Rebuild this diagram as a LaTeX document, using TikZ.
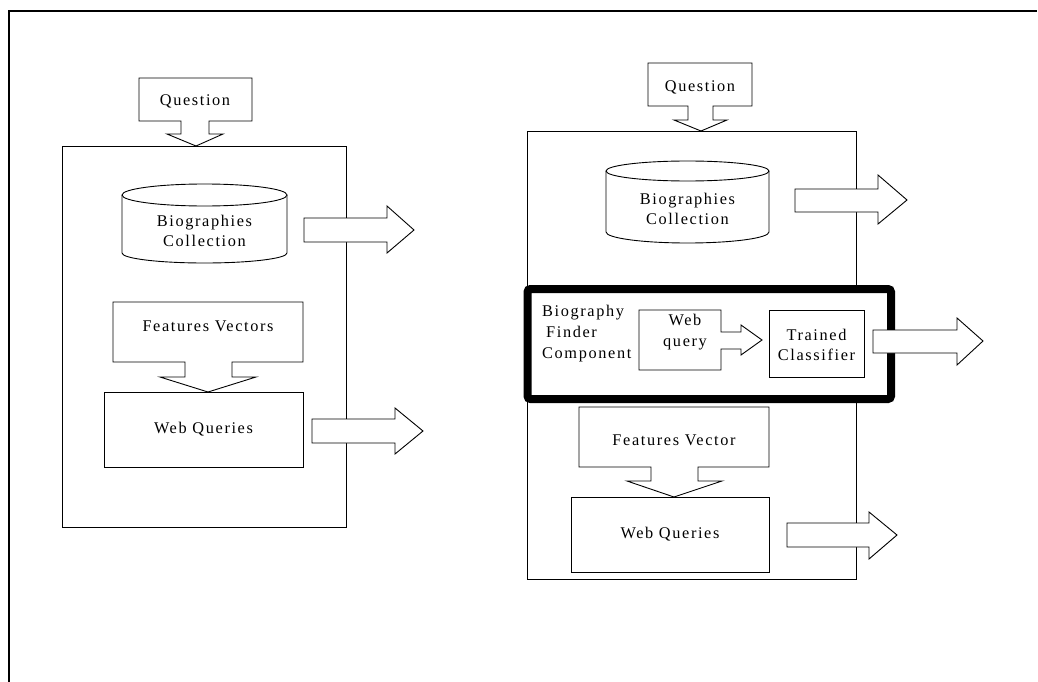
\documentclass[tikz,border=0pt]{standalone}
\usepackage{fontspec}
\newfontfamily\labfont{Liberation Serif}[LetterSpace=10]
\begin{document}
\tikzset{
  ln/.style={line width=0.9pt, line join=miter},
  blk/.style={ln, fill=white},
  lab/.style={font=\labfont\fontsize{16.3}{20.5}\selectfont, align=center, inner sep=0pt},
  boxnode/.style={ln, draw, fill=white, inner sep=0pt},
}
\begin{tikzpicture}[x=1pt,y=-1pt]
\useasboundingbox (0,0) rectangle (1038,682);
% frame
\draw[line width=2pt] (8.5,682) -- (8.5,11) -- (1037,11);

% ================= LEFT =================
\node[boxnode, minimum width=284pt, minimum height=381pt] (mainL) at (204,336.5) {};
% question callout
\draw[blk] (139,78) -- (252,78) -- (252,121) -- (209,121) -- (209,134) -- (223,134)
  -- (196,146) -- (167,134) -- (181,134) -- (181,121) -- (139,121) -- cycle;
\node[lab] (qL) at (195,101) {Question};
% cylinder
\draw[blk] (122,195) -- (122,253) arc[start angle=180, end angle=0, x radius=82.5, y radius=10] -- (287,195);
\draw[blk] (204.5,195) ellipse [x radius=82.5, y radius=11];
\node[lab] (bioL) at (204.5,231) {Biographies\\Collection};
% arrow out 1
\draw[blk] (304,218) -- (387,218) -- (387,206) -- (414,230) -- (387,253) -- (387,242) -- (304,242) -- cycle;
% features vectors callout
\draw[blk] (113,302) -- (303,302) -- (303,362) -- (232,362) -- (232,377) -- (256,377)
  -- (208,392) -- (160,377) -- (185,377) -- (185,362) -- (113,362) -- cycle;
\node[lab] (fvL) at (208,326) {Features Vectors};
% web queries
\node[boxnode, minimum width=199pt, minimum height=75pt] (wqL) at (203.5,429.5) {};
\node[lab] at (wqL.center) {Web Queries};
% arrow out 2
\draw[blk] (312,419) -- (395,419) -- (395,408) -- (423,431) -- (395,454) -- (395,443) -- (312,443) -- cycle;

% ================= RIGHT =================
\node[boxnode, minimum width=329pt, minimum height=448pt] (mainR) at (691.5,355) {};
% question callout
\draw[blk] (648,63) -- (752,63) -- (752,106) -- (713,106) -- (713,120) -- (727,120)
  -- (701,131) -- (674,120) -- (688,120) -- (688,106) -- (648,106) -- cycle;
\node[lab] (qR) at (700,87) {Question};
% cylinder
\draw[blk] (606,171) -- (606,232) arc[start angle=180, end angle=0, x radius=81.5, y radius=11] -- (769,171);
\draw[blk] (687.5,171) ellipse [x radius=81.5, y radius=10];
\node[lab] (bioR) at (687.5,209) {Biographies\\Collection};
% arrow out 1
\draw[blk] (795,189) -- (878,189) -- (878,175) -- (907,200) -- (878,224) -- (878,212) -- (795,212) -- cycle;
% biography finder component (thick box)
\draw[line width=8pt, rounded corners=3pt, fill=white] (527.5,289) rectangle (891,399);
\node[lab, align=left, anchor=west, font=\labfont\fontsize{16.3}{21}\selectfont] (bfc) at (542,334)
  {Biography\\\hspace*{4pt}Finder\\Component};
% web query callout
\draw[blk] (639,310) -- (721,310) -- (721,332) -- (741,332) -- (741,325) -- (762,340)
  -- (741,355) -- (741,349) -- (721,349) -- (721,370) -- (639,370) -- cycle;
\node[lab] (wq) at (685,332) {Web\\query};
% trained classifier
\node[boxnode, minimum width=95pt, minimum height=67pt] (tc) at (816.5,343.5) {};
\node[lab] at (816.5,345) {Trained\\Classifier};
% arrow out 2
\draw[blk] (873,330) -- (957,330) -- (957,318) -- (983,341) -- (957,365) -- (957,353) -- (873,353) -- cycle;
% features vector callout
\draw[blk] (579,407) -- (769,407) -- (769,467) -- (698,467) -- (698,481) -- (722,481)
  -- (674,497) -- (627,481) -- (651,481) -- (651,467) -- (579,467) -- cycle;
\node[lab] (fvR) at (674,440) {Features Vector};
% web queries
\node[boxnode, minimum width=198pt, minimum height=75pt] (wqR) at (670,534.5) {};
\node[lab] at (wqR.center) {Web Queries};
% arrow out 3
\draw[blk] (787,523) -- (869,523) -- (869,512) -- (897,535) -- (869,559) -- (869,547) -- (787,547) -- cycle;
\end{tikzpicture}
\end{document}
